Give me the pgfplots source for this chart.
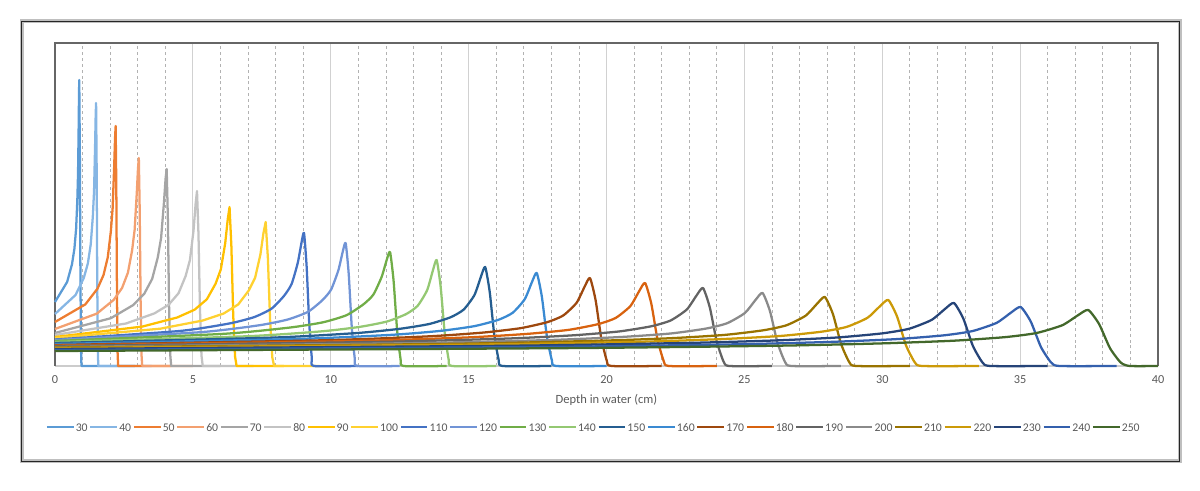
\documentclass[border=0pt]{standalone}
\usepackage{fontspec}
\setmainfont{Carlito}
\usepackage{pgfplots}
\pgfplotsset{compat=1.18}

\definecolor{textgray}{HTML}{595959}
\definecolor{c30}{HTML}{5B9BD5}
\definecolor{c40}{HTML}{86B6E4}
\definecolor{c50}{HTML}{ED7D31}
\definecolor{c60}{HTML}{F3A070}
\definecolor{c70}{HTML}{A5A5A5}
\definecolor{c80}{HTML}{C3C3C3}
\definecolor{c90}{HTML}{FFC000}
\definecolor{c100}{HTML}{FFD130}
\definecolor{c110}{HTML}{4472C4}
\definecolor{c120}{HTML}{7194D6}
\definecolor{c130}{HTML}{70AD47}
\definecolor{c140}{HTML}{94C872}
\definecolor{c150}{HTML}{255E91}
\definecolor{c160}{HTML}{3A8AD2}
\definecolor{c170}{HTML}{9E480E}
\definecolor{c180}{HTML}{D8620F}
\definecolor{c190}{HTML}{636363}
\definecolor{c200}{HTML}{8A8A8A}
\definecolor{c210}{HTML}{997300}
\definecolor{c220}{HTML}{CC9A08}
\definecolor{c230}{HTML}{264478}
\definecolor{c240}{HTML}{3460AD}
\definecolor{c250}{HTML}{43682B}

\begin{document}
\begin{tikzpicture}[x=0.75pt,y=0.75pt]
\useasboundingbox (0,0) rectangle (1200,491);
% outer chart frame
\draw[gray!50, line width=3pt] (21.5,29.5) rectangle (1179.5,469.5);
\draw[black!85, line width=0.9pt] (21.5,29.5) rectangle (1179.5,469.5);

\begin{axis}[
    at={(41.25pt,93.75pt)}, anchor=origin,
    width=827.25pt, height=242.25pt, scale only axis,
    xmin=0, xmax=40, ymin=0, ymax=323,
    clip=false,
    axis line style={draw=none},
    xtick={0,5,...,40}, minor x tick num=4,
    ytick=\empty,
    major tick length=0pt, minor tick length=0pt,
    xmajorgrids, xminorgrids,
    major grid style={draw=black!18, line width=0.9pt},
    minor grid style={draw=black!30, line width=0.6pt, dash pattern=on 2.2pt off 2.2pt},
    /pgf/number format/assume math mode=true,
    xticklabel style={font=\fontsize{9.2}{11}\selectfont, text=textgray, yshift=-4pt},
    xlabel={Depth in water (cm)},
    xlabel style={at={(axis description cs:0.5,-0.105)}, anchor=center,
        font=\fontsize{9.4}{11}\selectfont, text=textgray},
    every axis plot/.append style={line width=1.7pt, line join=round},
    legend columns=23,
    legend style={at={(axis description cs:0.488,-0.189)}, anchor=center,
        draw=none, fill=none, font=\fontsize{8.8}{11}\selectfont, text=textgray,
        inner sep=0pt, nodes={inner sep=0.8pt, text height=1.4ex, text depth=0.1ex},
        /tikz/every even column/.append style={column sep=0.4pt}},
    legend image code/.code={\draw[#1] (0pt,0pt) -- (20pt,0pt);},
]
\draw[black!20, line width=1pt] (rel axis cs:0,0) -- (rel axis cs:1,0);
\draw[black!60, line width=0.8pt] (rel axis cs:0,0) -- (rel axis cs:0,1) -- (rel axis cs:1,1) -- (rel axis cs:1,0);

\addplot[c30] coordinates {(0,64) (0.44,84) (0.616,101.7) (0.704,117.3) (0.766,137.3) (0.810,166.1) (0.836,192.8) (0.858,239.4) (0.871,272.7) (0.88,286) (0.901,214.5) (0.922,91.5) (0.943,17.2) (0.96,0) (2.9,0)};
\addlegendentry{30}
\addplot[c40] coordinates {(0,52) (0.745,71) (1.043,87.9) (1.192,102.6) (1.296,121.6) (1.371,149.1) (1.416,174.4) (1.453,218.7) (1.475,250.3) (1.49,263) (1.511,197.3) (1.532,84.2) (1.553,15.8) (1.57,0) (3.5,0)};
\addlegendentry{40}
\addplot[c50] coordinates {(0,44) (1.10,61.6) (1.54,77.3) (1.76,91.0) (1.914,108.7) (2.024,134.2) (2.09,157.7) (2.145,198.8) (2.178,228.2) (2.20,240) (2.223,180) (2.246,76.8) (2.269,14.4) (2.289,0) (4.2,0)};
\addlegendentry{50}
\addplot[c60] coordinates {(0,37) (1.52,52.4) (2.128,66.1) (2.432,78.0) (2.645,93.4) (2.797,115.7) (2.888,136.2) (2.964,172.1) (3.010,197.7) (3.04,208) (3.072,156) (3.104,66.6) (3.135,12.5) (3.162,0) (5.0,0)};
\addlegendentry{60}
\addplot[c70] coordinates {(0,33) (2.025,47.8) (2.835,60.9) (3.24,72.4) (3.524,87.1) (3.726,108.4) (3.848,128.1) (3.949,162.6) (4.010,187.2) (4.05,197) (4.093,147.8) (4.135,63) (4.178,11.8) (4.213,0) (6.0,0)};
\addlegendentry{70}
\addplot[c80] coordinates {(0,31) (2.575,42.5) (3.605,52.6) (4.12,61.2) (4.481,72.8) (4.738,90.0) (4.893,105.9) (5.021,134.7) (5.099,162.0) (5.15,175) (5.204,131.3) (5.258,56) (5.312,10.5) (5.357,0) (7.2,0)};
\addlegendentry{80}
\addplot[c90] coordinates {(0,29) (3.165,39.4) (4.431,48.5) (5.064,56.3) (5.507,66.7) (5.824,82.3) (6.014,96.6) (6.172,122.6) (6.267,147.3) (6.33,159) (6.397,119.3) (6.463,50.9) (6.53,9.5) (6.585,0) (8.3,0)};
\addlegendentry{90}
\addplot[c100] coordinates {(0,28) (3.82,37.3) (5.348,45.4) (6.112,52.4) (6.647,61.6) (7.029,75.6) (7.258,88.3) (7.449,111.5) (7.564,133.6) (7.64,144) (7.72,108) (7.80,46.1) (7.88,8.6) (7.947,0) (9.6,0)};
\addlegendentry{100}
\addplot[c110, smooth, tension=0.35] coordinates {(0,26.5) (4.515,35.0) (6.321,42.5) (7.224,48.9) (7.856,57.4) (8.308,70.2) (8.579,81.9) (8.804,103.2) (8.940,123.4) (9.03,133) (9.125,99.8) (9.22,42.6) (9.314,8.0) (9.393,0) (11,0)};
\addlegendentry{110}
\addplot[c120, smooth, tension=0.35] coordinates {(0,26) (5.27,33.8) (7.378,40.6) (8.432,46.4) (9.170,54.1) (9.697,65.8) (10.013,76.4) (10.277,95.8) (10.435,114.3) (10.54,123) (10.651,92.3) (10.761,39.4) (10.872,7.4) (10.964,0) (12.5,0)};
\addlegendentry{120}
\addplot[c130, smooth, tension=0.35] coordinates {(0,25) (6.075,32.1) (8.505,38.4) (9.72,43.7) (10.571,50.8) (11.178,61.5) (11.543,71.3) (11.846,89.1) (12.029,106.0) (12.15,114) (12.278,85.5) (12.405,36.5) (12.533,6.8) (12.639,0) (14.2,0)};
\addlegendentry{130}
\addplot[c140, smooth, tension=0.35] coordinates {(0,24) (6.92,29.7) (9.688,34.7) (11.072,39.2) (12.041,44.5) (12.733,51.9) (13.148,60.1) (13.494,75.7) (13.702,95.3) (13.84,106) (13.985,79.5) (14.13,33.9) (14.276,6.4) (14.397,0) (16,0)};
\addlegendentry{140}
\addplot[c150, smooth, tension=0.35] coordinates {(0,23) (7.8,28.3) (10.92,32.9) (12.48,37.1) (13.572,42) (14.352,48.8) (14.82,56.4) (15.21,70.9) (15.444,89.1) (15.6,99) (15.764,74.3) (15.928,31.7) (16.091,5.9) (16.228,0) (18,0)};
\addlegendentry{150}
\addplot[c160, smooth, tension=0.35] coordinates {(0,22) (8.735,27) (12.229,31.2) (13.976,35.1) (15.199,39.8) (16.072,46.1) (16.597,53.2) (17.033,66.7) (17.295,83.8) (17.47,93) (17.653,69.8) (17.837,29.8) (18.02,5.6) (18.173,0) (20,0)};
\addlegendentry{160}
\addplot[c170, smooth, tension=0.35] coordinates {(0,21) (9.7,25.7) (13.58,29.7) (15.52,33.4) (16.878,37.8) (17.848,43.8) (18.43,50.5) (18.915,63.2) (19.206,79.3) (19.4,88) (19.604,66) (19.807,28.2) (20.011,5.3) (20.181,0) (22,0)};
\addlegendentry{170}
\addplot[c180, smooth, tension=0.35] coordinates {(0,20.5) (10.7,24.9) (14.98,28.6) (17.12,32.1) (18.618,36.1) (19.688,41.8) (20.33,48) (20.865,59.9) (21.186,74.9) (21.4,83) (21.625,62.3) (21.849,26.6) (22.074,5) (22.261,0) (24,0)};
\addlegendentry{180}
\addplot[c190, smooth, tension=0.35] coordinates {(0,20) (11.75,24.1) (16.45,27.5) (18.8,30.7) (20.445,34.5) (21.62,39.7) (22.325,45.5) (22.913,56.5) (23.265,70.5) (23.5,78) (23.747,58.5) (23.994,25) (24.241,4.7) (24.446,0) (26,0)};
\addlegendentry{190}
\addplot[c200, smooth, tension=0.35] coordinates {(0,19) (12.83,22.8) (17.962,26) (20.528,29) (22.324,32.5) (23.607,37.4) (24.377,42.8) (25.019,53) (25.403,66) (25.66,73) (25.929,54.8) (26.199,23.4) (26.468,4.4) (26.693,0) (28.5,0)};
\addlegendentry{200}
\addplot[c210, smooth, tension=0.35] coordinates {(0,18.5) (13.96,22) (19.544,25.1) (22.336,27.8) (24.29,31.1) (25.686,35.7) (26.524,40.7) (27.222,50.3) (27.641,62.4) (27.92,69) (28.213,51.8) (28.506,22.1) (28.799,4.1) (29.044,0) (31,0)};
\addlegendentry{210}
\addplot[c220, smooth, tension=0.35] coordinates {(0,18) (15.11,21.4) (21.154,24.2) (24.176,26.9) (26.291,30) (27.802,34.3) (28.709,39.1) (29.465,48.2) (29.918,59.8) (30.22,66) (30.537,49.5) (30.855,21.1) (31.172,4) (31.437,0) (33.5,0)};
\addlegendentry{220}
\addplot[c230, smooth, tension=0.35] coordinates {(0,17) (16.3,20.2) (22.82,23) (26.08,25.5) (28.362,28.5) (29.992,32.6) (30.97,37.2) (31.785,46) (32.274,57) (32.6,63) (32.942,47.3) (33.285,20.2) (33.627,3.8) (33.912,0) (36,0)};
\addlegendentry{230}
\addplot[c240, smooth, tension=0.35] coordinates {(0,16) (17.51,19) (24.514,21.6) (28.016,24) (30.467,26.8) (32.218,30.6) (33.269,34.9) (34.145,43.1) (34.67,53.4) (35.02,59) (35.388,44.3) (35.756,18.9) (36.123,3.5) (36.43,0) (38.5,0)};
\addlegendentry{240}
\addplot[c250, smooth, tension=0.35] coordinates {(0,15) (18.735,17.9) (26.229,20.3) (29.976,22.6) (32.599,25.3) (34.472,28.9) (35.597,33) (36.533,40.8) (37.095,50.7) (37.47,56) (37.863,42) (38.257,17.9) (38.65,3.4) (38.978,0) (40,0)};
\addlegendentry{250}
\end{axis}
\end{tikzpicture}
\end{document}
